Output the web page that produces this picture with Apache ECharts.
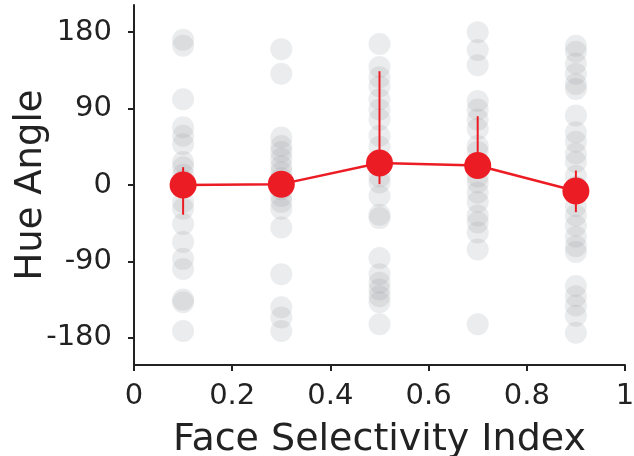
<!DOCTYPE html>
<html>
<head>
<meta charset="utf-8">
<script src="https://cdn.jsdelivr.net/npm/echarts@6/dist/echarts.min.js"></script>
<style>html,body{margin:0;padding:0;background:#fff}#c{width:634px;height:456px}</style>
</head>
<body>
<div id="c"></div>
<script>
const binCenters = [0.1, 0.3, 0.5, 0.7, 0.9];
const hueBin1 = [171, 164, 101, 68, 58, 48, 27, 21, 12, 5, -20, -28, -46, -67, -87, -99, -135, -138, -172];
const hueBin2 = [160, 131, 56, 46, 39, 31, 22, 15, 8, -5, -13, -20, -28, -50, -105, -144, -156, -172];
const hueBin3 = [166, 139, 127, 116, 101, 89, 77, 58, 45, 10, 3, -13, -35, -39, -86, -105, -115, -123, -131, -138, -164];
const hueBin4 = [180, 159, 141, 99, 89, 77, 66, 46, 39, 10, 3, -9, -20, -36, -44, -56, -76, -164];
const hueBin5 = [164, 157, 143, 131, 119, 113, 82, 62, 51, 37, 27, 11, -2, -25, -36, -48, -61, -72, -79, -119, -131, -142, -154, -174];
const meanHue = [0, 1, 26, 23, -7];
const errLow = [-35, -7, 1, 12, -32];
const errHigh = [21, 8, 134, 81, 17];
const yTicks = [-180, -90, 0, 90, 180];

const bins = [hueBin1, hueBin2, hueBin3, hueBin4, hueBin5];
const scatterData = [];
bins.forEach((arr, i) => arr.forEach(v => scatterData.push([binCenters[i], v])));
const meanData = binCenters.map((x, i) => [x, meanHue[i]]);
const errData = binCenters.map((x, i) => [x, errLow[i], errHigh[i]]);

const FONT = 'DejaVu Sans';
const RED = '#ec1c24';
const chart = echarts.init(document.getElementById('c'), null, {renderer: 'canvas'});
chart.setOption({
  animation: false,
  backgroundColor: '#fff',
  grid: {left: 134, right: 9, top: 5, bottom: 91, containLabel: false, outerBoundsMode: 'none'},
  xAxis: {
    type: 'value', min: 0, max: 1, interval: 0.2,
    name: 'Face Selectivity Index', nameLocation: 'middle', nameGap: 56, nameMoveOverlap: false,
    nameTextStyle: {fontFamily: FONT, fontSize: 38, color: '#222'},
    axisLine: {show: true, onZero: false, lineStyle: {color: '#222', width: 2}},
    axisTick: {show: true, length: 6, lineStyle: {color: '#222', width: 2}},
    axisLabel: {fontFamily: FONT, fontSize: 29, color: '#222', margin: 17},
    splitLine: {show: false}
  },
  yAxis: {
    type: 'value', min: -212, max: 212,
    name: 'Hue Angle', nameLocation: 'middle', nameGap: 84, nameMoveOverlap: false,
    nameTextStyle: {fontFamily: FONT, fontSize: 37, color: '#222'},
    axisLine: {show: true, onZero: false, lineStyle: {color: '#222', width: 2}},
    axisTick: {show: true, length: 6, customValues: yTicks, lineStyle: {color: '#222', width: 2}},
    axisLabel: {fontFamily: FONT, fontSize: 29, color: '#222', margin: 22, customValues: yTicks},
    splitLine: {show: false}
  },
  series: [
    {
      type: 'scatter', data: scatterData, symbol: 'circle', symbolSize: 22,
      itemStyle: {color: 'rgba(150,155,162,0.24)'}, z: 1, silent: true
    },
    {
      type: 'custom', data: errData, z: 3, silent: true,
      renderItem: function (params, api) {
        const p1 = api.coord([api.value(0), api.value(1)]);
        const p2 = api.coord([api.value(0), api.value(2)]);
        return {type: 'line', shape: {x1: p1[0], y1: p1[1], x2: p2[0], y2: p2[1]},
          style: {stroke: RED, lineWidth: 2}};
      }
    },
    {
      type: 'line', data: meanData, symbol: 'circle', symbolSize: 27, z: 4,
      lineStyle: {color: RED, width: 2.5}, itemStyle: {color: RED}, silent: true
    }
  ]
});
</script>
</body>
</html>
